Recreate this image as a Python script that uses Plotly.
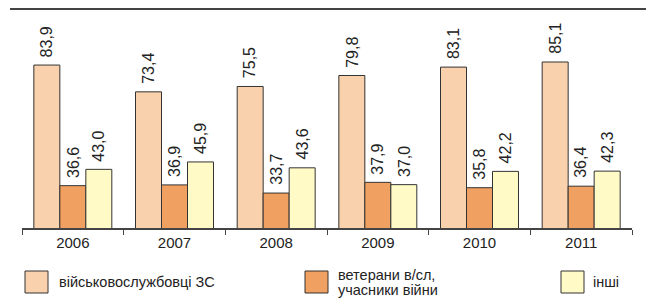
import plotly.graph_objects as go

years = ["2006", "2007", "2008", "2009", "2010", "2011"]
servicemen = [83.9, 73.4, 75.5, 79.8, 83.1, 85.1]
veterans = [36.6, 36.9, 33.7, 37.9, 35.8, 36.4]
others = [43.0, 45.9, 43.6, 37.0, 42.2, 42.3]

series_names = ["військовослужбовці ЗС", "ветерани в/сл,", "інші"]
legend_extra = "учасники війни"
colors = ["#F9D1AD", "#F0A060", "#FFFAC6"]

FONT = "Liberation Sans Narrow, Arial Narrow, sans-serif"

def fmt(v):
    return f"{v:.1f}".replace(".", ",")

W, H = 646, 307
L, R, T, B = 22, 14, 24, 79
pw, ph = W - L - R, H - T - B
BARGAP = 0.233
bar_px = pw / len(years) * (1 - BARGAP) / 3

fig = go.Figure()
annotations = []
for i, (vals, col, name) in enumerate(zip([servicemen, veterans, others], colors, series_names)):
    fig.add_trace(go.Bar(
        x=years, y=vals, name=name,
        marker=dict(color=col, line=dict(color="#333333", width=1)),
        cliponaxis=False, showlegend=False,
    ))
    for j, v in enumerate(vals):
        annotations.append(dict(x=j, y=v, xref="x", yref="y", text=fmt(v), showarrow=False,
                                textangle=-90, xanchor="center", yanchor="bottom",
                                xshift=(i - 1) * bar_px, yshift=6,
                                font=dict(family=FONT, size=16, color="#222222")))

def px(x):
    return (x - L) / pw

def py(y):
    return (H - B - y) / ph

shapes = [dict(type="line", xref="paper", yref="paper", x0=px(10), x1=px(646), y0=py(9), y1=py(9),
               line=dict(color="#444444", width=2))]
legend_pos = [(25, 58, 282), (305, 337, 275), (561, 592, 282)]
for (sx, tx, ty), col, name in zip(legend_pos, colors, series_names):
    shapes.append(dict(type="rect", xref="paper", yref="paper", x0=px(sx), x1=px(sx + 23),
                       y0=py(271), y1=py(293), fillcolor=col, line=dict(color="#333333", width=1)))
    annotations.append(dict(xref="paper", yref="paper", x=px(tx), y=py(ty), text=name, showarrow=False,
                            xanchor="left", yanchor="middle", align="left", borderpad=0,
                            font=dict(family=FONT, size=14.5, color="#222222")))
annotations.append(dict(xref="paper", yref="paper", x=px(337), y=py(290), text=legend_extra, showarrow=False,
                        xanchor="left", yanchor="middle", align="left", borderpad=0,
                        font=dict(family=FONT, size=14.5, color="#222222")))

fig.update_layout(
    width=W, height=H, margin=dict(l=L, r=R, t=T, b=B),
    paper_bgcolor="white", plot_bgcolor="white",
    barmode="group", bargap=BARGAP, bargroupgap=0,
    shapes=shapes, annotations=annotations,
    xaxis=dict(type="category", range=[-0.5, len(years) - 0.5], showline=True, linecolor="#444444",
               linewidth=1.5, ticks="outside", tickson="boundaries", ticklen=5, tickcolor="#444444",
               tickfont=dict(family=FONT, size=15, color="#222222"), showgrid=False),
    yaxis=dict(range=[20, 100], visible=False, showgrid=False),
)

fig.write_html("out.html", config={"displayModeBar": False},
               post_script="document.body.style.margin='0px';")
